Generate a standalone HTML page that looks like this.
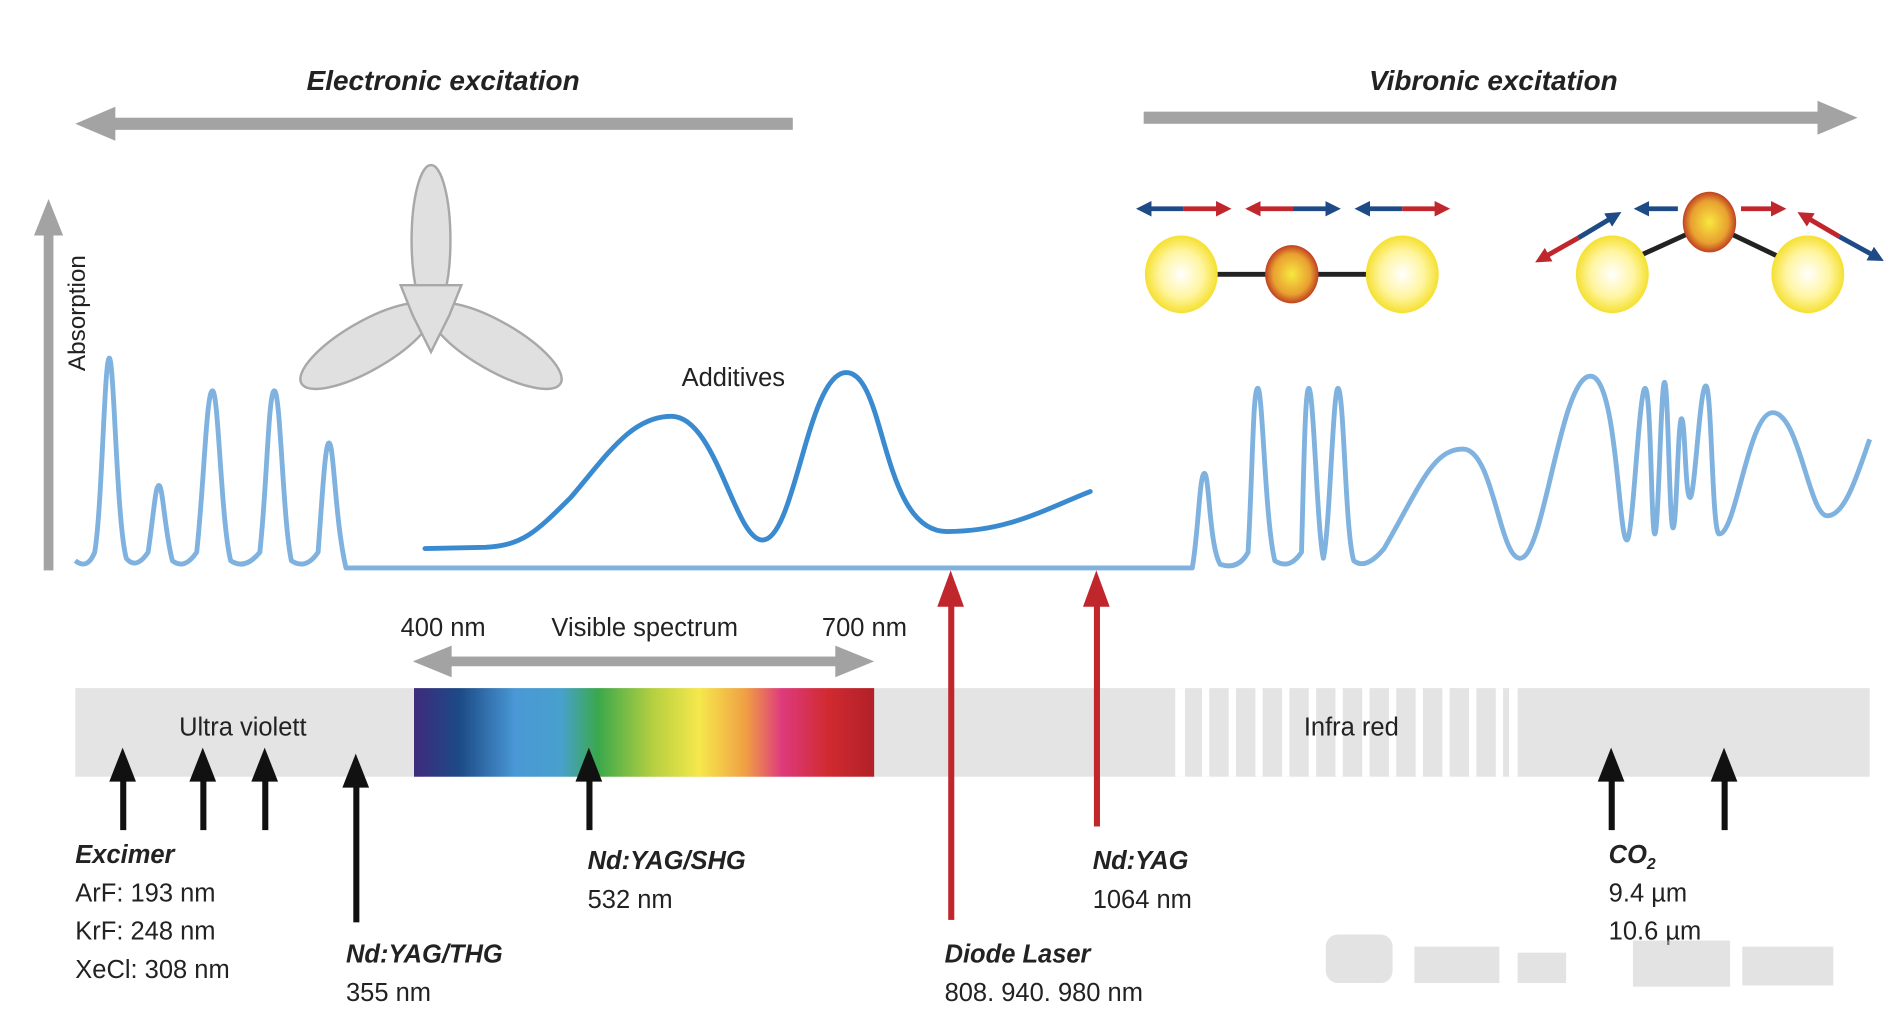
<!DOCTYPE html>
<html><head><meta charset="utf-8"><style>
html,body{margin:0;padding:0;background:#fff;}
svg{display:block;}
text{font-family:"Liberation Sans",sans-serif;fill:#222;}
.bi{font-weight:bold;font-style:italic;}
</style></head><body>
<svg width="1894" height="1034" viewBox="0 0 1560 852" preserveAspectRatio="none" xmlns="http://www.w3.org/2000/svg">
<defs>
<linearGradient id="spec" x1="0" x2="1" y1="0" y2="0">
<stop offset="0" stop-color="#3e2a7c"/><stop offset="0.1" stop-color="#1c4b86"/>
<stop offset="0.22" stop-color="#4a98d6"/><stop offset="0.32" stop-color="#48a0cc"/>
<stop offset="0.4" stop-color="#3aa84c"/><stop offset="0.52" stop-color="#b6d040"/>
<stop offset="0.62" stop-color="#f6e84c"/><stop offset="0.72" stop-color="#f0a044"/>
<stop offset="0.8" stop-color="#de3a7c"/><stop offset="0.9" stop-color="#d02a30"/>
<stop offset="1" stop-color="#b22028"/></linearGradient>
<radialGradient id="yb" cx="0.5" cy="0.5" r="0.5"><stop offset="0" stop-color="#fff"/><stop offset="0.6" stop-color="#fff5a0"/><stop offset="1" stop-color="#f5e030"/></radialGradient>
<radialGradient id="ob" cx="0.5" cy="0.5" r="0.5"><stop offset="0" stop-color="#f8e840"/><stop offset="0.7" stop-color="#e8a030"/><stop offset="1" stop-color="#c04020"/></radialGradient>
<marker id="hb" viewBox="0 0 10 10" refX="5" refY="5" markerWidth="3.2" markerHeight="3.2" orient="auto-start-reverse"><path d="M0 0L10 5L0 10z" fill="#1e4a85"/></marker>
<marker id="hr" viewBox="0 0 10 10" refX="5" refY="5" markerWidth="3.2" markerHeight="3.2" orient="auto-start-reverse"><path d="M0 0L10 5L0 10z" fill="#c0272d"/></marker>
</defs>

<text x="365" y="74" class="bi" font-size="23" text-anchor="middle">Electronic excitation</text>
<rect x="88" y="97" width="565" height="10" fill="#a3a3a3"/>
<path d="M62 102L95 88L95 116z" fill="#a3a3a3"/>
<text x="1230" y="74" class="bi" font-size="23" text-anchor="middle">Vibronic excitation</text>
<rect x="942" y="92" width="562" height="10" fill="#a3a3a3"/>
<path d="M1530 97L1497 83L1497 111z" fill="#a3a3a3"/>

<rect x="36" y="190" width="8" height="280" fill="#a3a3a3"/>
<path d="M40 164L28 194L52 194z" fill="#a3a3a3"/>
<text transform="translate(70,258) rotate(-90)" font-size="20" text-anchor="middle">Absorption</text>

<g fill="#e0e0e0" stroke="#a8a8a8" stroke-width="2">
<ellipse cx="355" cy="198" rx="16" ry="62"/>
<ellipse cx="302" cy="285" rx="62" ry="20" transform="rotate(-30 302 285)"/>
<ellipse cx="408" cy="285" rx="62" ry="20" transform="rotate(30 408 285)"/>
<path d="M330 235L380 235L370 260L355 290L340 260z"/>
</g>

<path fill="none" stroke="#7fb2df" stroke-width="4" stroke-linejoin="round" d="M62 462 Q72 470 78 455 C84 420 86 295 90 295 C94 295 96 430 104 460 Q112 470 122 455 C127 420 128 400 131 400 C134 400 136 440 142 462 Q152 470 162 455 C168 400 170 322 175 322 C180 322 182 430 190 462 Q202 470 214 455 C220 400 221 322 226 322 C231 322 233 430 240 462 Q252 470 262 455 C266 400 268 365 271 365 C275 365 276 430 285 468 L982 468 C987 440 988 390 992 390 C996 390 996 450 1005 465 Q1020 470 1028 455 C1032 380 1032 320 1036 320 C1040 320 1042 430 1050 462 Q1062 470 1072 455 C1074 380 1075 320 1078 320 C1082 320 1085 440 1090 460 C1095 440 1098 320 1102 320 C1107 320 1108 440 1115 462 Q1125 470 1140 452 C1170 400 1180 370 1205 370 C1230 370 1235 460 1252 460 C1272 460 1285 310 1310 310 C1332 310 1333 445 1340 445 C1345 445 1350 320 1355 320 C1360 320 1360 440 1363 440 C1366 440 1368 315 1371 315 C1374 315 1375 435 1378 435 C1381 435 1382 345 1385 345 C1388 345 1388 410 1392 410 C1396 410 1400 318 1405 318 C1410 318 1410 440 1416 440 C1430 440 1440 340 1460 340 C1482 340 1490 425 1505 425 C1520 425 1530 390 1540 362"/>

<path fill="none" stroke="#3a8ad0" stroke-width="4" stroke-linecap="round" d="M350 452 L400 451 C430 449 440 440 470 410 C500 375 520 343 553 343 C590 343 605 445 628 445 C655 445 665 307 697 307 C730 307 725 438 780 438 C830 438 860 420 898 405"/>
<text x="604" y="318" font-size="21" text-anchor="middle">Additives</text>

<line x1="973" y1="226" x2="1155" y2="226" stroke="#222" stroke-width="4"/>
<ellipse cx="973" cy="226" rx="30" ry="32" fill="url(#yb)"/>
<ellipse cx="1155" cy="226" rx="30" ry="32" fill="url(#yb)"/>
<ellipse cx="1064" cy="226" rx="22" ry="24" fill="url(#ob)"/>
<g stroke-width="4">
<line x1="942" y1="172" x2="975" y2="172" stroke="#1e4a85" marker-start="url(#hb)"/><line x1="975" y1="172" x2="1008" y2="172" stroke="#c0272d" marker-end="url(#hr)"/>
<line x1="1032" y1="172" x2="1065" y2="172" stroke="#c0272d" marker-start="url(#hr)"/><line x1="1065" y1="172" x2="1098" y2="172" stroke="#1e4a85" marker-end="url(#hb)"/>
<line x1="1122" y1="172" x2="1155" y2="172" stroke="#1e4a85" marker-start="url(#hb)"/><line x1="1155" y1="172" x2="1188" y2="172" stroke="#c0272d" marker-end="url(#hr)"/>
</g>
<line x1="1352" y1="210" x2="1396" y2="190" stroke="#222" stroke-width="4"/>
<line x1="1420" y1="190" x2="1466" y2="212" stroke="#222" stroke-width="4"/>
<ellipse cx="1328" cy="226" rx="30" ry="32" fill="url(#yb)"/>
<ellipse cx="1489" cy="226" rx="30" ry="32" fill="url(#yb)"/>
<ellipse cx="1408" cy="183" rx="22" ry="25" fill="url(#ob)"/>
<g stroke-width="4">
<line x1="1382" y1="172" x2="1352" y2="172" stroke="#1e4a85" marker-end="url(#hb)"/>
<line x1="1434" y1="172" x2="1465" y2="172" stroke="#c0272d" marker-end="url(#hr)"/>
<line x1="1300" y1="196" x2="1330" y2="178" stroke="#1e4a85" marker-end="url(#hb)"/><line x1="1300" y1="196" x2="1270" y2="213" stroke="#c0272d" marker-end="url(#hr)"/>
<line x1="1515" y1="195" x2="1486" y2="178" stroke="#c0272d" marker-end="url(#hr)"/><line x1="1515" y1="195" x2="1546" y2="212" stroke="#1e4a85" marker-end="url(#hb)"/>
</g>

<text x="365" y="524" font-size="21" text-anchor="middle">400 nm</text>
<text x="531" y="524" font-size="21" text-anchor="middle">Visible spectrum</text>
<text x="712" y="524" font-size="21" text-anchor="middle">700 nm</text>
<rect x="360" y="541" width="340" height="8" fill="#a3a3a3"/>
<path d="M340 545L372 532L372 558z M720 545L688 532L688 558z" fill="#a3a3a3"/>

<rect x="62" y="567" width="1478" height="73" fill="#e4e4e4"/>
<g fill="#fff">
<rect x="968" y="567" width="8" height="73"/><rect x="990" y="567" width="6" height="73"/><rect x="1012" y="567" width="6" height="73"/><rect x="1034" y="567" width="6" height="73"/><rect x="1056" y="567" width="6" height="73"/><rect x="1078" y="567" width="6" height="73"/><rect x="1100" y="567" width="6" height="73"/><rect x="1122" y="567" width="6" height="73"/><rect x="1144" y="567" width="6" height="73"/><rect x="1166" y="567" width="6" height="73"/><rect x="1188" y="567" width="6" height="73"/><rect x="1210" y="567" width="6" height="73"/><rect x="1232" y="567" width="6" height="73"/><rect x="1243" y="567" width="7" height="73"/>
</g>
<rect x="341" y="567" width="379" height="73" fill="url(#spec)"/>
<text x="200" y="606" font-size="21" text-anchor="middle">Ultra violett</text>
<text x="1113" y="606" font-size="21" text-anchor="middle">Infra red</text>

<rect x="781" y="495" width="5" height="263" fill="#c0272d"/><path d="M783 470L772 500L794 500z" fill="#c0272d"/>
<rect x="901" y="495" width="5" height="186" fill="#c0272d"/><path d="M903 470L892 500L914 500z" fill="#c0272d"/>

<g fill="#111">
<rect x="99" y="640" width="5" height="44"/><path d="M101 616L90 644L112 644z"/>
<rect x="165" y="640" width="5" height="44"/><path d="M167 616L156 644L178 644z"/>
<rect x="216" y="640" width="5" height="44"/><path d="M218 616L207 644L229 644z"/>
<rect x="291" y="645" width="5" height="115"/><path d="M293 621L282 649L304 649z"/>
<rect x="483" y="640" width="5" height="44"/><path d="M485 616L474 644L496 644z"/>
<rect x="1325" y="640" width="5" height="44"/><path d="M1327 616L1316 644L1338 644z"/>
<rect x="1418" y="640" width="5" height="44"/><path d="M1420 616L1409 644L1431 644z"/>
</g>

<g font-size="21">
<text x="62" y="711" class="bi">Excimer</text>
<text x="62" y="743">ArF: 193 nm</text>
<text x="62" y="774">KrF: 248 nm</text>
<text x="62" y="806">XeCl: 308 nm</text>
<text x="285" y="793" class="bi">Nd:YAG/THG</text>
<text x="285" y="825">355 nm</text>
<text x="484" y="716" class="bi">Nd:YAG/SHG</text>
<text x="484" y="748">532 nm</text>
<text x="778" y="793" class="bi">Diode Laser</text>
<text x="778" y="825">808. 940. 980 nm</text>
<text x="900" y="716" class="bi">Nd:YAG</text>
<text x="900" y="748">1064 nm</text>
<text x="1325" y="711" class="bi">CO<tspan font-size="13" dy="5">2</tspan></text>
<text x="1325" y="743">9.4 µm</text>
<text x="1325" y="774">10.6 µm</text>
</g>
<g fill="#c8c8c8" opacity="0.5">
<rect x="1092" y="770" width="55" height="40" rx="10"/>
<rect x="1165" y="780" width="70" height="30"/>
<rect x="1250" y="785" width="40" height="25"/>
<rect x="1345" y="775" width="80" height="38"/>
<rect x="1435" y="780" width="75" height="32"/>
</g>
</svg>
</body></html>
